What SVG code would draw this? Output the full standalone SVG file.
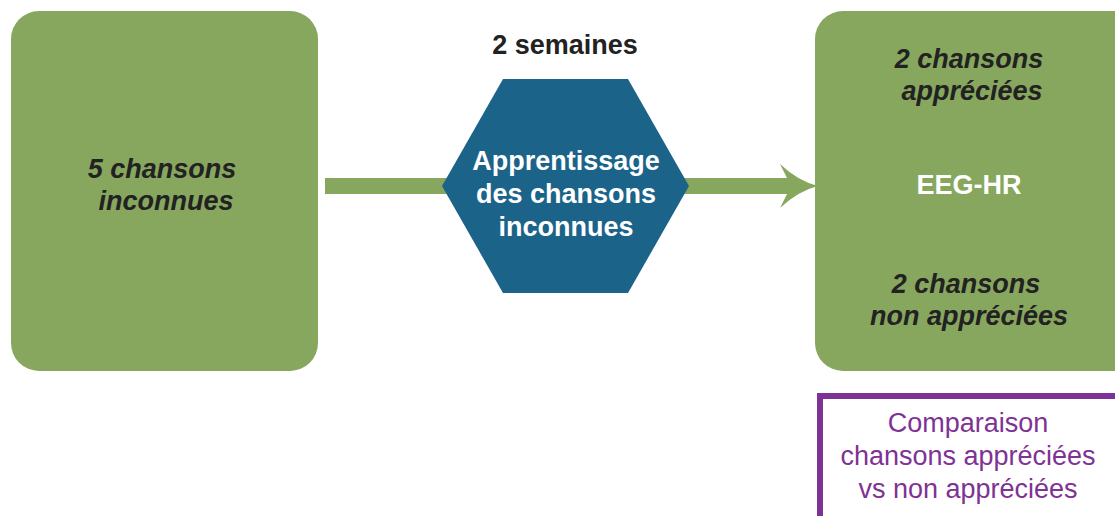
<svg xmlns="http://www.w3.org/2000/svg" width="1115" height="516" viewBox="0 0 1115 516">
<style>
.box{fill:#87a75e}
.t{font-family:"Liberation Sans",Arial,sans-serif;font-size:27px;text-anchor:middle}
.bi{font-weight:bold;font-style:italic;fill:#222}
.bw{font-weight:bold;fill:#fff}
.bk{font-weight:bold;fill:#222}
.pu{fill:#7f3295}
</style>
<rect width="1115" height="516" fill="#fff"/>
<g id="connectors">
<path d="M325 178 L787 178 L780 164 Q798 181 818 186 Q798 191 780 208 L787 194 L325 194 Z" fill="#87a75e"/>
</g>
<g id="node-left">
<rect class="box" x="11" y="11" width="307" height="360" rx="28"/>
<text class="t bi" x="162" y="178">5 chansons</text>
<text class="t bi" x="166" y="210">inconnues</text>
</g>
<g id="node-hex">
<polygon points="503,79 628,79 689,186 628,293 503,293 442,186" fill="#1c6389"/>
<text class="t bw" x="566" y="170">Apprentissage</text>
<text class="t bw" x="566" y="203">des chansons</text>
<text class="t bw" x="566" y="236">inconnues</text>
</g>
<g id="label-weeks">
<text class="t bk" x="565" y="54">2 semaines</text>
</g>
<g id="node-right">
<rect class="box" x="815" y="11" width="340" height="360" rx="28"/>
<text class="t bi" x="969" y="68">2 chansons</text>
<text class="t bi" x="972" y="100">appréciées</text>
<text class="t bw" x="969" y="194">EEG-HR</text>
<text class="t bi" x="966" y="293">2 chansons</text>
<text class="t bi" x="969" y="325">non appréciées</text>
</g>
<g id="node-compare">
<rect x="820" y="396" width="320" height="150" fill="#fff" stroke="#7f3295" stroke-width="6"/>
<text class="t pu" x="968" y="432">Comparaison</text>
<text class="t pu" x="968" y="465">chansons appréciées</text>
<text class="t pu" x="968" y="498">vs non appréciées</text>
</g>
</svg>
